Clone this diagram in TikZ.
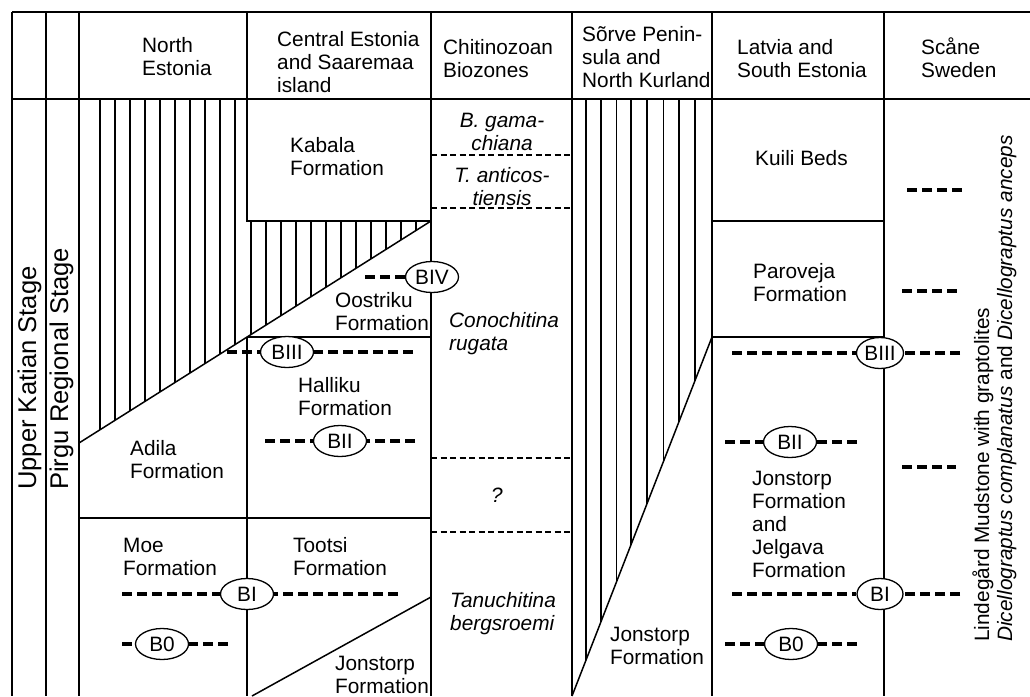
\documentclass[tikz,border=0pt]{standalone}
\usepackage{fontspec}
\setmainfont{Liberation Sans}
\usetikzlibrary{shapes.geometric}
\begin{document}
\begin{tikzpicture}[x=1pt,y=-1pt,
  frame/.style={line width=1.5pt},
  hatch/.style={line width=1.1pt},
  txt/.style={inner sep=0pt, align=left, anchor=base west, font=\fontsize{20.8}{22.8}\selectfont},
  ctxt/.style={inner sep=0pt, align=center, anchor=base, font=\fontsize{20.8}{22.8}\selectfont\itshape},
  itxt/.style={inner sep=0pt, align=left, anchor=base west, font=\fontsize{20.8}{22.8}\selectfont\itshape},
  bnode/.style={ellipse, draw, line width=1.3pt, fill=white, inner sep=0pt, minimum width=53pt, minimum height=31pt, font=\fontsize{20.8}{22.8}\selectfont},
  bdash/.style={line width=4.5pt, dash pattern=on 10pt off 5pt},
  zdash/.style={line width=1.2pt, dash pattern=on 6pt off 3.5pt},
  stage/.style={inner sep=0pt, anchor=base west, rotate=90, font=\fontsize{25.6}{28}\selectfont},
  sidetxt/.style={inner sep=0pt, anchor=base west, rotate=90, font=\fontsize{20.8}{22.8}\selectfont}]
\useasboundingbox (0,0) rectangle (1030,696);

% hatching
\begin{scope}
  \clip (79,99) -- (247,99) -- (247,221) -- (431,221) -- (79,443) -- cycle;
  \foreach \x in {100,115,...,235} \draw[hatch] (\x,99) -- (\x,460);
  \foreach \x in {251,266,...,420} \draw[hatch] (\x,99) -- (\x,460);
\end{scope}
\begin{scope}
  \clip (572,99) -- (712,99) -- (712,337) -- (572,696) -- cycle;
  \foreach \x in {586,601,616.5,631,647,663.5,679,695} \draw[hatch] (\x,99) -- (\x,696);
\end{scope}

% frame
\draw[frame] (12,12) -- (1030,12);
\draw[frame] (12,99) -- (1030,99);
\foreach \x in {12,46,79,431,572,712,884} \draw[frame] (\x,12) -- (\x,696);
\draw[frame] (247,12) -- (247,221) -- (431,221);
\draw[frame] (247,337) -- (247,696);
\draw[frame] (247,337) -- (431,337);
\draw[frame] (79,443) -- (431,221);
\draw[frame] (79,518) -- (431,518);
\draw[frame] (252,696) -- (431,597);
\draw[frame] (572,696) -- (712,337);
\draw[frame] (712,221) -- (884,221);
\draw[frame] (712,337) -- (884,337);

% chitinozoan dashed boundaries
\foreach \y in {155,208,458,532} \draw[zdash] (431,\y) -- (572,\y);

% header (anchor = baseline of last line)
\node[txt] (hNE) at (142,75) {North\\Estonia};
\node[txt] (hCE) at (277,92) {Central Estonia\\and Saaremaa\\island};
\node[txt] (hCB) at (443,77) {Chitinozoan\\Biozones};
\node[txt] (hSP) at (582,87) {Sõrve Penin-\\sula and\\North Kurland};
\node[txt] (hLS) at (737,77) {Latvia and\\South Estonia};
\node[txt] (hSS) at (921,77) {Scåne\\Sweden};

% stages
\node[stage] (sUK) at (36,490) {Upper Katian Stage};
\node[stage] (sPR) at (68,490) {Pirgu Regional Stage};

% formations
\node[txt] (tKab) at (290,175) {Kabala\\Formation};
\node[txt] (tOos) at (335,330) {Oostriku\\Formation};
\node[txt] (tHal) at (298,415) {Halliku\\Formation};
\node[txt] (tAdi) at (130,478) {Adila\\Formation};
\node[txt] (tMoe) at (123,575) {Moe\\Formation};
\node[txt] (tToo) at (293,575) {Tootsi\\Formation};
\node[txt] (tJon1) at (335,693) {Jonstorp\\Formation};
\node[txt] (tJon2) at (610,664) {Jonstorp\\Formation};
\node[txt] (tKui) at (755,165) {Kuili Beds};
\node[txt] (tPar) at (753,301) {Paroveja\\Formation};
\node[txt] (tJon3) at (752,577) {Jonstorp\\Formation\\and\\Jelgava\\Formation};

% biozones
\node[ctxt] (zBg) at (502,150) {B. gama-\\chiana};
\node[ctxt] (zTa) at (502,205) {T. anticos-\\tiensis};
\node[itxt] (zCr) at (449,350) {Conochitina\\rugata};
\node[ctxt] (zQ) at (497,502) {?};
\node[itxt] (zTb) at (450,630) {Tanuchitina\\bergsroemi};

% Scane side text
\node[sidetxt] (sL1) at (989,642) {Lindegård Mudstone with graptolites};
\node[sidetxt] (sL2) at (1012,642) {\itshape Dicellograptus complanatus \upshape and \itshape Dicellograptus anceps};

% bentonite markers
\node[bnode] (BIV) at (432,277) {BIV};
\node[bnode] (BIIIa) at (287,352) {BIII};
\node[bnode] (BIIa) at (340,441) {BII};
\node[bnode] (BIa) at (247,594) {BI};
\node[bnode] (B0a) at (162,644) {B0};
\node[bnode, minimum width=47pt] (BIIIb) at (880,353) {BIII};
\node[bnode] (BIIb) at (790,442) {BII};
\node[bnode, minimum width=46pt] (BIb) at (880,594) {BI};
\node[bnode] (B0b) at (791,644) {B0};

\coordinate (dBIVl) at (365,277);
\coordinate (dBIIIal) at (227,352);
\coordinate (dBIIIar) at (413,352);
\coordinate (dBIIal) at (265,441);
\coordinate (dBIIar) at (415,441);
\coordinate (dBIal) at (122,594);
\coordinate (dBIar) at (398,594);
\coordinate (dB0al) at (122,644);
\coordinate (dB0ar) at (228,644);
\coordinate (dBIIIbl) at (732,353);
\coordinate (dBIIIbr) at (960,353);
\coordinate (dBIIbl) at (725,442);
\coordinate (dBIIbr) at (857,442);
\coordinate (dBIbl) at (732,594);
\coordinate (dBIbr) at (960,594);
\coordinate (dB0bl) at (725,644);
\coordinate (dB0br) at (857,644);

\draw[bdash] (dBIVl) -- (BIV.west);
\draw[bdash] (dBIIIal) -- (BIIIa.west);
\draw[bdash] (dBIIIar) -- (BIIIa.east);
\draw[bdash] (dBIIal) -- (BIIa.west);
\draw[bdash] (dBIIar) -- (BIIa.east);
\draw[bdash] (dBIal) -- (BIa.west);
\draw[bdash] (dBIar) -- (BIa.east);
\draw[bdash] (dB0al) -- (B0a.west);
\draw[bdash] (dB0ar) -- (B0a.east);
\draw[bdash] (dBIIIbl) -- (BIIIb.west);
\draw[bdash] (dBIIIbr) -- (BIIIb.east);
\draw[bdash] (dBIIbl) -- (BIIb.west);
\draw[bdash] (dBIIbr) -- (BIIb.east);
\draw[bdash] (dBIbl) -- (BIb.west);
\draw[bdash] (dBIbr) -- (BIb.east);
\draw[bdash] (dB0bl) -- (B0b.west);
\draw[bdash] (dB0br) -- (B0b.east);

\coordinate (s1a) at (907,190); \coordinate (s1b) at (962,190);
\coordinate (s2a) at (902,291); \coordinate (s2b) at (957,291);
\coordinate (s3a) at (902,467); \coordinate (s3b) at (956,467);
\draw[bdash] (s1a) -- (s1b);
\draw[bdash] (s2a) -- (s2b);
\draw[bdash] (s3a) -- (s3b);
\end{tikzpicture}
\end{document}
